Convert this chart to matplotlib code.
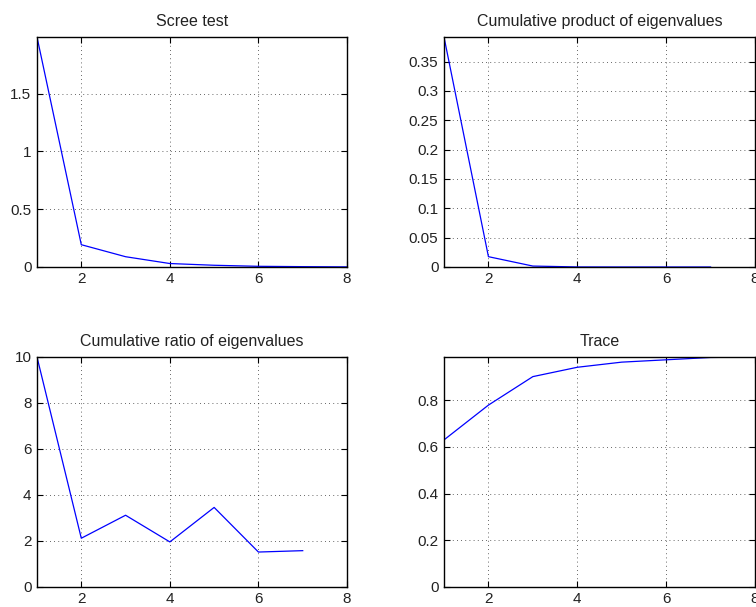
import numpy as np
import matplotlib
matplotlib.use("Agg")
import matplotlib.pyplot as plt
from matplotlib.ticker import FuncFormatter

plt.rcParams['font.family'] = ['Liberation Sans', 'DejaVu Sans']

# values
scree_x = [1, 2, 3, 4, 5, 6, 7, 8]
scree_y = [1.99, 0.193, 0.089, 0.030, 0.015, 0.006, 0.003, 0.001]

prod_x = [1, 2, 3, 4, 5, 6, 7]
prod_y = [0.392, 0.0176, 0.0016, 0.0001, 0.00001, 0.0, 0.0]

ratio_x = [1, 2, 3, 4, 5, 6, 7]
ratio_y = [10.0, 2.12, 3.12, 1.96, 3.46, 1.52, 1.58]

trace_x = [1, 2, 3, 4, 5, 6, 7, 8]
trace_y = [0.630, 0.779, 0.901, 0.941, 0.963, 0.973, 0.983, 0.985]

titles = ["Scree test", "Cumulative product of eigenvalues",
          "Cumulative ratio of eigenvalues", "Trace"]
yticks = [[0, 0.5, 1, 1.5],
          [0, 0.05, 0.1, 0.15, 0.2, 0.25, 0.3, 0.35],
          [0, 2, 4, 6, 8, 10],
          [0, 0.2, 0.4, 0.6, 0.8]]
ytops = [1.99, 0.392, 10.0, 0.985]
xticks = [2, 4, 6, 8]

W, H = 756, 607
fig = plt.figure(figsize=(W / 100, H / 100), dpi=100)

# axes boxes in pixels: left, top, width, height
boxes = [(37, 37, 310, 230), (444, 37, 311, 230),
         (37, 357, 310, 230), (444, 357, 311, 230)]
series = [(scree_x, scree_y), (prod_x, prod_y), (ratio_x, ratio_y), (trace_x, trace_y)]

fmt = FuncFormatter(lambda v, p: '{:g}'.format(round(v, 6)))

for i in range(4):
    l, t, w, h = boxes[i]
    ax = fig.add_axes([l / W, 1 - (t + h) / H, w / W, h / H])
    xs, ys = series[i]
    ax.plot(xs, ys, color='blue', linewidth=0.9)
    ax.set_xlim(1, 8)
    ax.set_ylim(0, ytops[i])
    ax.set_xticks(xticks)
    ax.set_yticks(yticks[i])
    ax.yaxis.set_major_formatter(fmt)
    ax.grid(True, color='black', linestyle=(0, (1, 4)), linewidth=0.6, alpha=0.8)
    ax.tick_params(direction='in', top=True, right=True, length=4, width=0.8,
                   labelsize=11, pad=4, colors='black', labelcolor='#222222')
    ax.tick_params(axis='x', pad=3.5)
    for s in ax.spines.values():
        s.set_linewidth(1.0)
    ax.set_title(titles[i], fontsize=11.5, pad=8, color='#222222')

plt.savefig('out.png', dpi=100)
